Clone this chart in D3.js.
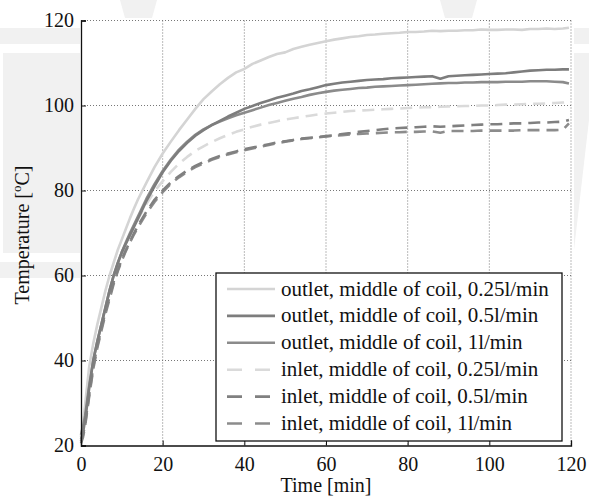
<!DOCTYPE html>
<html><head><meta charset="utf-8">
<script src="https://cdn.jsdelivr.net/npm/d3@7"></script>
<style>body{margin:0;background:#fff}svg{display:block}text{font-family:"Liberation Serif","Times New Roman",serif;fill:#111}</style>
</head><body><svg id="c" width="589" height="496"></svg>
<script>
const times = [0,0.5,1,1.5,2,3,4,5,6,7,8,9,10,11,12,13,14,16,18,20,22,24,26,28,30,32,34,36,38,40,42,44,46,48,50,52,54,56,58,60,62,64,66,68,70,72,74,76,78,80,82,84,86,88,90,92,94,96,98,100,102,104,106,108,110,112,114,116,118,119.5];

const outlet025 = [22,25.5,29.5,34,38.5,44,48.5,52.5,56.5,60,63,66,68.5,71,73.5,75.8,78,81.8,85.5,88.7,91.5,94.2,96.7,99.2,101.5,103.3,105,106.5,107.8,108.6,109.8,110.6,111.4,112.1,112.5,113.3,113.8,114.3,114.7,115.1,115.5,115.8,116.1,116.3,116.6,116.7,116.9,117.0,117.1,117.3,117.3,117.4,117.6,117.5,117.6,117.6,117.7,117.7,117.9,117.8,117.8,117.9,117.9,117.8,118.0,118.0,118.1,118.0,118.1,118.3];
const outlet05 = [21.5,23,26,29.5,33.5,40,44.5,48.5,52.5,56.5,60,63,65.5,67.5,69.5,71.5,73.5,77.5,81,84.3,87,89.3,91.2,92.9,94.2,95.4,96.4,97.4,98.3,99.2,99.9,100.6,101.2,101.8,102.3,102.8,103.4,103.8,104.3,104.8,105.1,105.4,105.6,105.8,106.0,106.1,106.2,106.4,106.5,106.6,106.7,106.8,106.9,106.3,106.9,107.0,107.1,107.2,107.3,107.4,107.5,107.6,107.8,108.0,108.2,108.3,108.4,108.4,108.5,108.5];
const outlet1 = [22.5,24.5,27,30.5,34,40,44.5,48.5,52.5,56.5,60,62.8,65.5,67.8,70,72,74,78,81.5,84.6,87.3,89.6,91.5,93.1,94.4,95.4,96.2,97,97.7,98.3,98.9,99.5,100.1,100.6,101.1,101.6,102.0,102.5,102.9,103.2,103.5,103.7,103.9,104.1,104.2,104.4,104.5,104.6,104.7,104.8,104.9,105.0,105.1,105.2,105.3,105.3,105.4,105.4,105.5,105.5,105.5,105.6,105.6,105.6,105.7,105.7,105.7,105.6,105.5,105.2];
const inlet025 = [21,23,25.5,29,32.5,39,44,48,52,56,59.5,62.5,65,67.5,69.5,71.5,73.3,76.8,79.8,82.2,84.4,86.3,87.9,89.3,90.4,91.4,92.3,93.1,93.8,94.4,95.0,95.5,95.9,96.3,96.7,97.0,97.3,97.6,97.9,98.1,98.3,98.5,98.7,98.8,98.9,99.0,99.1,99.2,99.3,99.4,99.5,99.6,99.6,99.7,99.8,99.8,99.9,99.9,100.0,100.0,100.1,100.2,100.2,100.3,100.4,100.4,100.5,100.6,100.7,100.8];
const inlet05 = [21,22.5,25,28.5,32,38.5,43.5,47.5,51.5,55,58.5,61.3,63.8,66,68,70,71.8,75,77.8,80.0,81.9,83.4,84.7,85.8,86.7,87.4,88.1,88.7,89.2,89.7,90.1,90.5,90.9,91.3,91.6,91.9,92.2,92.4,92.6,92.8,93.0,93.3,93.5,93.8,94.0,94.2,94.4,94.6,94.7,94.8,94.9,95.0,95.1,95.0,95.1,95.2,95.3,95.4,95.5,95.6,95.6,95.7,95.8,95.8,95.9,96.0,96.0,96.1,96.2,96.6];
const inlet1 = [20.5,22,24.5,28,31.5,38,43,47,51,54.5,58,61,63.5,65.8,67.8,69.7,71.4,74.6,77.3,79.6,81.6,83.1,84.4,85.5,86.4,87.2,87.9,88.5,89.0,89.5,89.9,90.3,90.7,91.1,91.5,91.8,92.1,92.3,92.5,92.7,92.9,93.0,93.2,93.3,93.4,93.5,93.6,93.7,93.7,93.8,93.8,93.9,93.9,93.6,94.0,94.0,94.0,94.0,94.1,94.1,94.1,94.1,94.1,94.2,94.2,94.2,94.2,94.2,94.3,95.8];

const seriesNames = ["outlet, middle of coil, 0.25l/min","outlet, middle of coil, 0.5l/min","outlet, middle of coil, 1l/min","inlet, middle of coil, 0.25l/min","inlet, middle of coil, 0.5l/min","inlet, middle of coil, 1l/min"];
const seriesValues = [outlet025,outlet05,outlet1,inlet025,inlet05,inlet1];
const seriesColors = ["#d4d4d4","#7d7d7d","#8b8b8b","#dadada","#808080","#8c8c8c"];
const seriesDashed = [false,false,false,true,true,true];
const xTicks = [0,20,40,60,80,100,120];
const yTicks = [20,40,60,80,100,120];

const svg = d3.select("#c");
const m = {l:81,r:571,t:20.5,b:445.5};
const x = d3.scaleLinear().domain([0,120]).range([m.l,m.r]);
const y = d3.scaleLinear().domain([20,120]).range([m.b,m.t]);

// faint watermark shapes outside the axes
const wm = svg.append("g").attr("fill","#f1f1f1");
wm.append("rect").attr("x",0).attr("y",28).attr("width",80).attr("height",16);
wm.append("rect").attr("x",3).attr("y",53).attr("width",77).attr("height",200);
wm.append("rect").attr("x",0).attr("y",262).attr("width",80).attr("height",16);
wm.append("polygon").attr("points","120,0 157,0 152,18 125,18");
wm.append("polygon").attr("points","440,0 477,0 472,18 445,18");
wm.append("rect").attr("x",574).attr("y",28).attr("width",15).attr("height",16);
wm.append("polygon").attr("points","574,53 589,53 589,120 574,250");
svg.append("rect").attr("x",m.l).attr("y",m.t).attr("width",m.r-m.l).attr("height",m.b-m.t).attr("fill","#fff");

// grid
const grid = svg.append("g").attr("stroke","#777").attr("stroke-width",1).attr("stroke-dasharray","1,2");
xTicks.filter(d=>d>0).forEach(d=>grid.append("line").attr("x1",x(d)).attr("x2",x(d)).attr("y1",m.t).attr("y2",m.b));
yTicks.filter(d=>d>20).forEach(d=>grid.append("line").attr("x1",m.l).attr("x2",m.r).attr("y1",y(d)).attr("y2",y(d)));

// lines
const line = d3.line().x((d,i)=>x(times[i])).y(d=>y(d));
const order = [0,3,5,4,2,1];
order.forEach(k=>{
  svg.append("path").datum(seriesValues[k]).attr("d",line).attr("fill","none")
    .attr("stroke",seriesColors[k]).attr("stroke-width",2.6).attr("stroke-linejoin","round")
    .attr("stroke-dasharray",seriesDashed[k]?"12,7":null);
});

// axes
const xa = svg.append("g").attr("transform",`translate(0,${m.b})`)
  .call(d3.axisBottom(x).tickValues(xTicks).tickSize(-5).tickPadding(10).tickFormat(d3.format("d")));
const ya = svg.append("g").attr("transform",`translate(${m.l},0)`)
  .call(d3.axisLeft(y).tickValues(yTicks).tickSize(-5).tickPadding(7).tickFormat(d3.format("d")));
[xa,ya].forEach(a=>{
  a.select(".domain").attr("stroke","#111").attr("stroke-width",1.3);
  a.selectAll(".tick line").attr("stroke","#111");
  a.selectAll(".tick text").attr("font-size",20).attr("font-family","Liberation Serif").attr("fill","#111");
});
xa.selectAll(".tick text").attr("dy","0.78em");

svg.append("text").attr("x",(m.l+m.r)/2).attr("y",492).attr("text-anchor","middle").attr("font-size",20).text("Time [min]");
const yl = svg.append("text").attr("transform","translate(29,235) rotate(-90)").attr("text-anchor","middle").attr("font-size",20);
yl.append("tspan").text("Temperature [");
yl.append("tspan").attr("font-size",13).attr("dy",-8).text("o");
yl.append("tspan").attr("dy",8).text("C]");

// legend
const lg = svg.append("g");
lg.append("rect").attr("x",216).attr("y",273).attr("width",346).attr("height",168).attr("fill","#fff").attr("stroke","#111").attr("stroke-width",1.3);
seriesNames.forEach((n,i)=>{
  const cy = 289 + i*26.9;
  lg.append("line").attr("x1",227).attr("x2",275).attr("y1",cy).attr("y2",cy)
    .attr("stroke",seriesColors[i]).attr("stroke-width",2.6).attr("stroke-dasharray",seriesDashed[i]?"15,13":null);
  lg.append("text").attr("x",281).attr("y",cy+6.5).attr("font-size",21).text(n);
});
</script></body></html>
